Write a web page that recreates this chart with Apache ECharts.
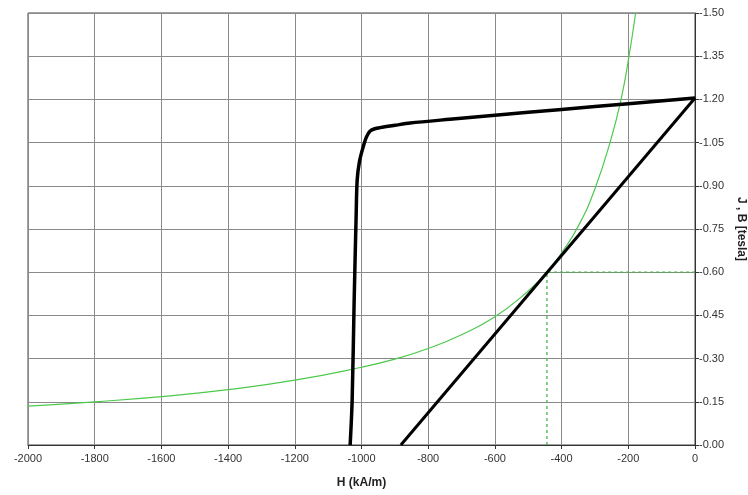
<!DOCTYPE html>
<html>
<head>
<meta charset="utf-8">
<script src="https://cdn.jsdelivr.net/npm/echarts@6/dist/echarts.min.js"></script>
<style>
html, body { margin: 0; padding: 0; background: #fff; }
#main { width: 748px; height: 495px; }
</style>
</head>
<body>
<div id="main"></div>
<script>
// demagnetisation curve J(H)
var demagH = [-1034, -1028, -1022, -1016, -1013, -1006, -995, -985, -974, -960, -944, -900, -854, -735, -600, -400, -200, 0];
var demagB = [0, 0.156, 0.503, 0.80, 0.92, 0.985, 1.035, 1.070, 1.090, 1.098, 1.102, 1.110, 1.118, 1.131, 1.145, 1.165, 1.185, 1.205];

// load line
var loadH = [-882, 0];
var loadB = [0, 1.205];

// green curve (constant energy product)
var greenH = [-2000, -1800, -1600, -1400, -1200, -1000, -900, -800, -700, -600, -500, -444, -400, -350, -300, -250, -220, -200, -178];
var greenB = [0.135, 0.150, 0.168, 0.192, 0.225, 0.270, 0.298, 0.335, 0.383, 0.445, 0.535, 0.600, 0.667, 0.760, 0.890, 1.070, 1.210, 1.335, 1.500];

// working point
var workH = -444;
var workB = 0.6;

function pairs(xs, ys) {
    var out = [];
    for (var i = 0; i < xs.length; i++) out.push([xs[i], ys[i]]);
    return out;
}

var chart = echarts.init(document.getElementById('main'));
var labelFont = { fontFamily: 'Liberation Sans, Arial, sans-serif', fontSize: 11, color: '#333' };

chart.setOption({
    animation: false,
    backgroundColor: '#fff',
    grid: {
        left: 28, right: 53, top: 13, bottom: 50, show: true,
        borderColor: '#444', borderWidth: 1,
        containLabel: false, outerBoundsMode: 'none'
    },
    xAxis: {
        type: 'value', min: -2000, max: 0, interval: 200,
        name: 'H (kA/m)', nameLocation: 'middle', nameGap: 32,
        nameTextStyle: { fontFamily: 'Liberation Sans, Arial, sans-serif', fontSize: 12, fontWeight: 'bold', color: '#222' },
        axisLine: { lineStyle: { color: '#333' } },
        axisTick: { length: 4, lineStyle: { color: '#333' } },
        axisLabel: Object.assign({ margin: 8, formatter: function (v) { return String(v); } }, labelFont),
        splitLine: { lineStyle: { color: '#8a8a8a', width: 1 } }
    },
    yAxis: {
        type: 'value', min: 0, max: 1.5, interval: 0.15, position: 'right',
        name: 'J , B [tesla]', nameLocation: 'middle', nameGap: 37, nameRotate: -90,
        nameTextStyle: { fontFamily: 'Liberation Sans, Arial, sans-serif', fontSize: 12, fontWeight: 'bold', color: '#222' },
        axisLine: { show: true, lineStyle: { color: '#333' } },
        axisTick: { show: true, length: 4, lineStyle: { color: '#333' } },
        axisLabel: Object.assign({ margin: 4, formatter: function (v) { return '-' + v.toFixed(2); } }, labelFont),
        splitLine: { lineStyle: { color: '#8a8a8a', width: 1 } }
    },
    series: [
        {
            type: 'line', data: pairs(greenH, greenB), smooth: true, symbol: 'none',
            lineStyle: { color: '#4cc94c', width: 1.2 }, z: 3
        },
        {
            type: 'line', data: [[workH, 0], [workH, workB], [0, workB]], symbol: 'none',
            lineStyle: { color: '#3fb83f', width: 1.3, type: [3, 3] }, z: 2
        },
        {
            type: 'line', data: pairs(demagH, demagB), smooth: 0.3, symbol: 'none',
            lineStyle: { color: '#000', width: 3.5 }, z: 4
        },
        {
            type: 'line', data: pairs(loadH, loadB), symbol: 'none',
            lineStyle: { color: '#000', width: 3 }, z: 4
        }
    ]
});
</script>
</body>
</html>
